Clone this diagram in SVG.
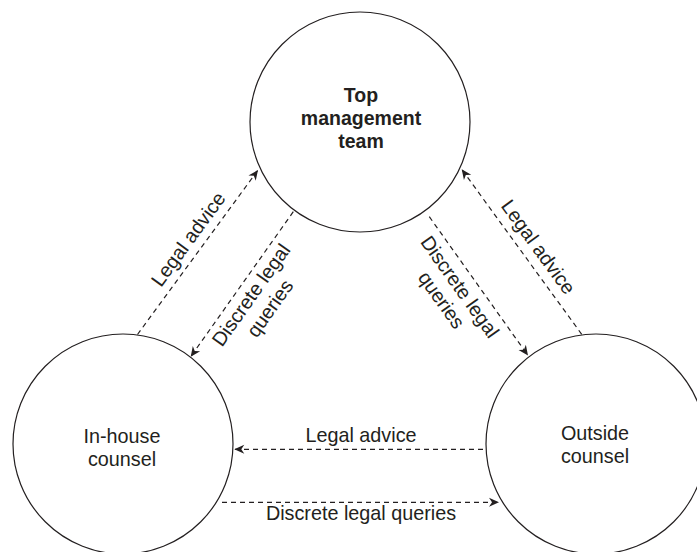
<svg xmlns="http://www.w3.org/2000/svg" width="697" height="552" viewBox="0 0 697 552">
<defs>
<marker id="ah" markerUnits="userSpaceOnUse" markerWidth="14" markerHeight="12" viewBox="-11 -6 12 12" refX="0" refY="0" orient="auto">
<path d="M0,0 L-10,-4.5 L-7,0 L-10,4.5 Z" fill="#231f20"/>
</marker>
<style>
.node{fill:#fff;stroke:#231f20;stroke-width:1.2}
.t{font-family:"Liberation Sans",Arial,Helvetica,sans-serif;font-size:19.8px;fill:#231f20;text-anchor:middle}
.b{font-weight:bold;font-size:19.5px}
.c{fill:none;stroke:#231f20;stroke-width:1.2;stroke-dasharray:5 4;marker-end:url(#ah)}
</style>
</defs>
<rect width="697" height="552" fill="#fff"/>
<g id="connectors">
<line class="c" x1="137.5" y1="334.5" x2="258" y2="170"/>
<line class="c" x1="293.3" y1="211.7" x2="190.7" y2="356.7"/>
<line class="c" x1="581.7" y1="334.3" x2="461.7" y2="169.3"/>
<line class="c" x1="429.3" y1="216.7" x2="528" y2="355.5"/>
<line class="c" x1="483" y1="449.3" x2="234.3" y2="449.3"/>
<line class="c" x1="222" y1="502.3" x2="499" y2="502.3"/>
<text class="t" transform="translate(193.8,243.1) rotate(-53.8)">Legal advice</text>
<text class="t" transform="translate(256.6,298.9) rotate(-54.7)">Discrete legal</text>
<text class="t" transform="translate(275.4,312.2) rotate(-54.7)">queries</text>
<text class="t" transform="translate(532.8,251) rotate(54)">Legal advice</text>
<text class="t" transform="translate(454.4,290.8) rotate(54.6)">Discrete legal</text>
<text class="t" transform="translate(436,303.9) rotate(54.6)">queries</text>
<text class="t" x="361" y="442.3">Legal advice</text>
<text class="t" x="361" y="520">Discrete legal queries</text>
</g>
<g id="top">
<circle class="node" cx="360" cy="122" r="110"/>
<text class="t b" x="361" y="102">Top</text>
<text class="t b" x="361" y="125">management</text>
<text class="t b" x="361" y="148">team</text>
</g>
<g id="inhouse">
<circle class="node" cx="123" cy="444" r="110"/>
<text class="t" x="122" y="442.5">In-house</text>
<text class="t" x="122" y="465.5">counsel</text>
</g>
<g id="outside">
<circle class="node" cx="596" cy="444" r="110"/>
<text class="t" x="595" y="439.5">Outside</text>
<text class="t" x="595" y="462.5">counsel</text>
</g>
</svg>
